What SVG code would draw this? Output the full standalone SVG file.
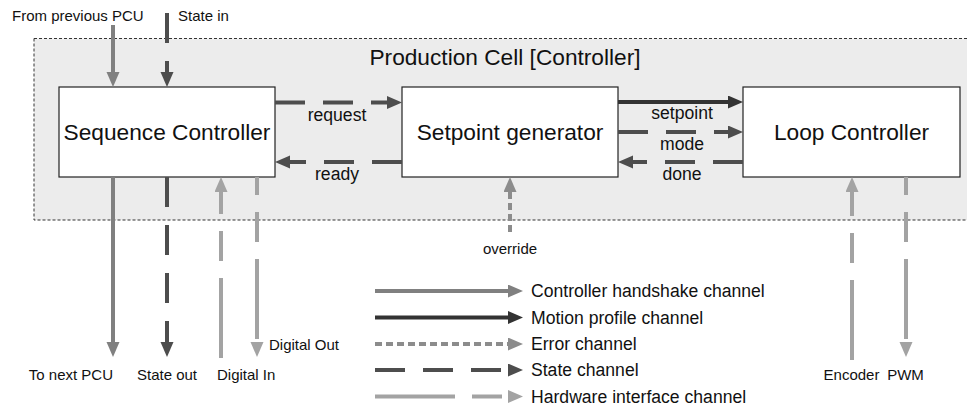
<svg xmlns="http://www.w3.org/2000/svg" width="967" height="410" viewBox="0 0 967 410">
<style>
text{font-family:"Liberation Sans",Arial,Helvetica,sans-serif;fill:#111}
.box{fill:#fff;stroke:#222;stroke-width:1.2}
.big{font-size:22.7px;text-anchor:middle}
.lbl{font-size:17.6px;text-anchor:middle}
.ext{font-size:15px}
.leg{font-size:17.6px}
.c{fill:none;stroke-width:4}
.hs{stroke:#808080}
.mp{stroke:#333}
.er{stroke:#8c8c8c;stroke-dasharray:7 4}
.st{stroke:#4d4d4d;stroke-dasharray:30 18}
.hw{stroke:#a3a3a3;stroke-dasharray:80 17 30 17}
</style>
<defs>
<marker id="aHs" markerUnits="userSpaceOnUse" markerWidth="16" markerHeight="14" refX="0" refY="6.5" orient="auto"><path d="M0,0L15,6.5L0,13z" fill="#808080"/></marker>
<marker id="aMp" markerUnits="userSpaceOnUse" markerWidth="16" markerHeight="14" refX="0" refY="6.5" orient="auto"><path d="M0,0L15,6.5L0,13z" fill="#333"/></marker>
<marker id="aEr" markerUnits="userSpaceOnUse" markerWidth="16" markerHeight="14" refX="0" refY="6.5" orient="auto"><path d="M0,0L15,6.5L0,13z" fill="#8c8c8c"/></marker>
<marker id="aSt" markerUnits="userSpaceOnUse" markerWidth="16" markerHeight="14" refX="0" refY="6.5" orient="auto"><path d="M0,0L15,6.5L0,13z" fill="#4d4d4d"/></marker>
<marker id="aHw" markerUnits="userSpaceOnUse" markerWidth="16" markerHeight="14" refX="0" refY="6.5" orient="auto"><path d="M0,0L15,6.5L0,13z" fill="#a3a3a3"/></marker>
</defs>
<rect width="967" height="410" fill="#fff"/>
<g id="container">
<rect x="34" y="38.5" width="945" height="181.5" fill="#ececec" stroke="#333" stroke-width="1" stroke-dasharray="3 2"/>
<text class="big" x="505" y="65">Production Cell [Controller]</text>
</g>
<g id="sequence-controller">
<rect class="box" x="59" y="87" width="216" height="90"/>
<text class="big" x="167" y="140">Sequence Controller</text>
</g>
<g id="setpoint-generator">
<rect class="box" x="402" y="87" width="216" height="90"/>
<text class="big" x="510" y="140">Setpoint generator</text>
</g>
<g id="loop-controller">
<rect class="box" x="743" y="87" width="217" height="90"/>
<text class="big" x="851.5" y="140">Loop Controller</text>
</g>
<g id="connectors">
<line class="c hs" x1="113" y1="25" x2="113" y2="72" marker-end="url(#aHs)"/>
<line class="c st" x1="167" y1="13" x2="167" y2="72" marker-end="url(#aSt)"/>
<line class="c st" x1="275" y1="102.5" x2="387" y2="102.5" marker-end="url(#aSt)"/>
<line class="c st" x1="402" y1="162" x2="290" y2="162" marker-end="url(#aSt)"/>
<line class="c mp" x1="618" y1="102" x2="728" y2="102" marker-end="url(#aMp)"/>
<line class="c st" x1="618" y1="132" x2="728" y2="132" marker-end="url(#aSt)"/>
<line class="c st" x1="743" y1="162" x2="633" y2="162" marker-end="url(#aSt)"/>
<line class="c er" x1="510" y1="232" x2="510" y2="192" marker-end="url(#aEr)"/>
<line class="c hs" x1="113" y1="177" x2="113" y2="342" marker-end="url(#aHs)"/>
<line class="c st" x1="167" y1="177" x2="167" y2="342" marker-end="url(#aSt)"/>
<line class="c hw" x1="221" y1="358" x2="221" y2="192" marker-end="url(#aHw)"/>
<line class="c hw" x1="257" y1="177" x2="257" y2="342" stroke-dashoffset="62" marker-end="url(#aHw)"/>
<line class="c hw" x1="852" y1="360" x2="852" y2="192" marker-end="url(#aHw)"/>
<line class="c hw" x1="906" y1="177" x2="906" y2="342" stroke-dashoffset="62" marker-end="url(#aHw)"/>
<text class="lbl" x="337" y="121">request</text>
<text class="lbl" x="337" y="180">ready</text>
<text class="lbl" x="682" y="119">setpoint</text>
<text class="lbl" x="682" y="149.5">mode</text>
<text class="lbl" x="682" y="180">done</text>
<text class="ext" x="510" y="254" text-anchor="middle">override</text>
<text class="ext" x="12" y="21">From previous PCU</text>
<text class="ext" x="178" y="21">State in</text>
<text class="ext" x="113" y="380" text-anchor="end">To next PCU</text>
<text class="ext" x="167" y="380" text-anchor="middle">State out</text>
<text class="ext" x="217" y="380">Digital In</text>
<text class="ext" x="269" y="350">Digital Out</text>
<text class="ext" x="851.5" y="380" text-anchor="middle">Encoder</text>
<text class="ext" x="905.5" y="380" text-anchor="middle">PWM</text>
</g>
<g id="legend">
<line class="c hs" x1="375" y1="291" x2="508" y2="291" marker-end="url(#aHs)"/>
<text class="leg" x="531" y="297">Controller handshake channel</text>
<line class="c mp" x1="375" y1="317.5" x2="508" y2="317.5" marker-end="url(#aMp)"/>
<text class="leg" x="531" y="323.5">Motion profile channel</text>
<line class="c er" x1="375" y1="344" x2="508" y2="344" marker-end="url(#aEr)"/>
<text class="leg" x="531" y="350">Error channel</text>
<line class="c st" x1="375" y1="370" x2="508" y2="370" marker-end="url(#aSt)"/>
<text class="leg" x="531" y="376">State channel</text>
<line class="c hw" x1="375" y1="396.5" x2="508" y2="396.5" marker-end="url(#aHw)"/>
<text class="leg" x="531" y="402.5">Hardware interface channel</text>
</g>
</svg>
